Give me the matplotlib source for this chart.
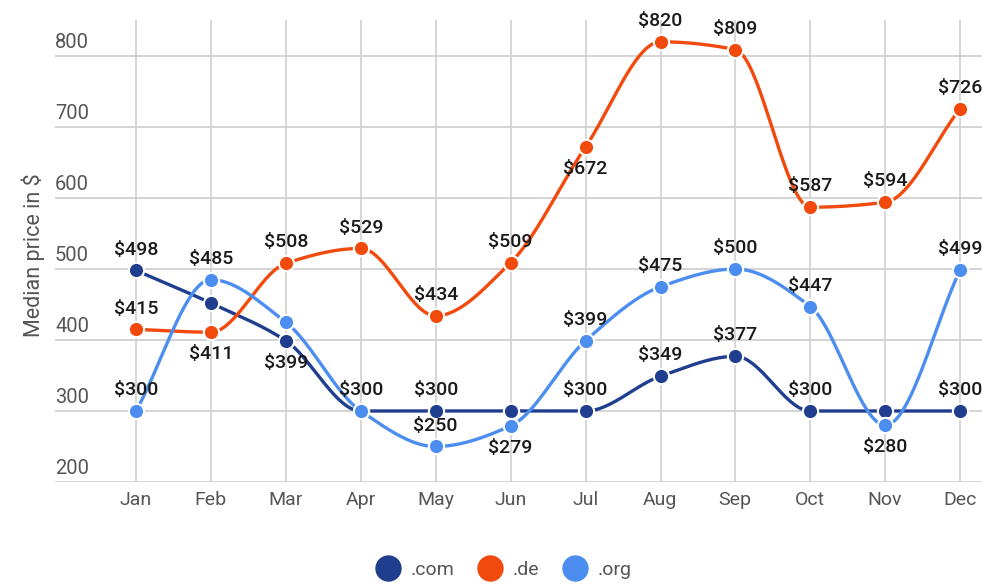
import numpy as np
import matplotlib
matplotlib.use('Agg')
import matplotlib.pyplot as plt
from matplotlib.lines import Line2D

plt.rcParams['font.family'] = ['Roboto', 'DejaVu Sans']

months = ['Jan', 'Feb', 'Mar', 'Apr', 'May', 'Jun', 'Jul', 'Aug', 'Sep', 'Oct', 'Nov', 'Dec']
com = [498, 452, 399, 300, 300, 300, 300, 349, 377, 300, 300, 300]
de = [415, 411, 508, 529, 434, 509, 672, 820, 809, 587, 594, 726]
org = [300, 485, 425, 300, 250, 279, 399, 475, 500, 447, 280, 499]
yticks = [200, 300, 400, 500, 600, 700, 800]

# which points carry a label, and where it goes (1 above, -1 below, 0 none)
com_lab = [1, 0, -1, 0, 1, 0, 1, 1, 1, 1, 0, 1]
de_lab = [1, -1, 1, 1, 1, 1, -1, 1, 1, 1, 1, 1]
org_lab = [1, 1, 0, 1, 1, -1, 1, 1, 1, 1, -1, 1]

c_com = '#1f3e8e'
c_de = '#f2490c'
c_org = '#4c8ef0'


def smooth(y, n=40):
    # monotone cubic (Fritsch-Carlson), no overshoot at the points
    y = np.asarray(y, float)
    x = np.arange(len(y))
    d = np.diff(y)
    m = np.zeros(len(y))
    for i in range(1, len(y) - 1):
        if d[i-1] * d[i] > 0:
            m[i] = 2.0 / (1.0/d[i-1] + 1.0/d[i])
    m[0] = d[0]
    m[-1] = d[-1]
    xs, ys = [], []
    for i in range(len(y) - 1):
        t = np.linspace(0, 1, n)
        h00 = 2*t**3 - 3*t**2 + 1
        h10 = t**3 - 2*t**2 + t
        h01 = -2*t**3 + 3*t**2
        h11 = t**3 - t**2
        xs.append(x[i] + t)
        ys.append(h00*y[i] + h10*m[i] + h01*y[i+1] + h11*m[i+1])
    return np.concatenate(xs), np.concatenate(ys)


fig = plt.figure(figsize=(9.82, 5.84), dpi=100)
ax = fig.add_axes([55/982, 102/584, 927/982, 462/584])
ax.set_xlim(-1.08, 11.29)
ax.set_ylim(200, 850.7)

for v in yticks:
    ax.axhline(v, color='#cccccc', lw=1.2, zorder=0)
for i in range(len(months)):
    ax.axvline(i, color='#d0d0d0', lw=1.2, zorder=0)

for sp in ax.spines.values():
    sp.set_visible(False)
ax.set_xticks([])
ax.set_yticks([])

for vals, labs, col in [(com, com_lab, c_com), (de, de_lab, c_de), (org, org_lab, c_org)]:
    sx, sy = smooth(vals)
    ax.plot(sx, sy, color=col, lw=2.4, zorder=2, solid_capstyle='round')
    ax.plot(range(len(vals)), vals, 'o', color=col, ms=11, mec='white', mew=1.5, zorder=3)
    for i, v in enumerate(vals):
        if labs[i] == 0:
            continue
        off = 15 if labs[i] > 0 else -16
        ax.annotate('$%d' % v, (i, v), xytext=(0, off), textcoords='offset points',
                    ha='center', va='center', fontsize=14, color='#1a1a1a',
                    fontweight='medium', zorder=4)

for v in yticks:
    ax.text(-1.08, v + 5, str(v), ha='left', va='bottom', fontsize=14.5, color='#555555')
for i, m in enumerate(months):
    fig.text((136 + i*74.9)/982, 1 - 500/584, m, ha='center', va='center', fontsize=14, color='#555555')

fig.text(33/982, 1 - 255/584, 'Median price in $', rotation=90, ha='center', va='center',
         fontsize=15.5, color='#555555')

handles = [Line2D([], [], ls='none', marker='o', ms=18, color=c) for c in (c_com, c_de, c_org)]
fig.legend(handles, ['.com', '.de', '.org'], loc='center', bbox_to_anchor=(504/982, 1 - 570/584),
           ncol=3, frameon=False, fontsize=14, handletextpad=0.6, columnspacing=1.2,
           labelcolor='#555555', handlelength=1.2)

fig.savefig('out.png', dpi=100)
